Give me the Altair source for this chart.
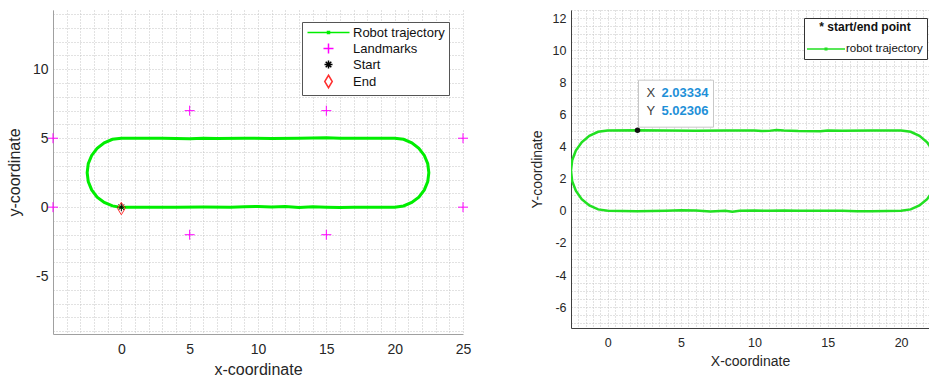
import altair as alt
import pandas as pd

# ---------------- left panel data ----------------
traj_x = [0, 2, 4, 6, 8, 9, 10, 11, 12, 13, 14, 15, 16, 17, 18, 20,
          20.65, 21.25, 21.77, 22.17, 22.42, 22.5, 22.42, 22.17, 21.77, 21.25, 20.65, 20,
          18, 16, 15, 13, 11, 9, 7, 6, 5, 3, 2, 0,
          -0.65, -1.25, -1.77, -2.17, -2.42, -2.5, -2.42, -2.17, -1.77, -1.25, -0.65, 0]
traj_y = [0, 0, 0, 0.01, 0, 0.03, 0.05, 0.02, 0.04, -0.03, 0.03, 0, -0.03, 0, 0, 0,
          0.09, 0.34, 0.73, 1.25, 1.85, 2.5, 3.15, 3.75, 4.27, 4.67, 4.92, 5,
          5, 5, 5.03, 5, 4.98, 5, 4.98, 5, 4.97, 5, 5, 5,
          4.92, 4.67, 4.27, 3.75, 3.15, 2.5, 1.85, 1.25, 0.73, 0.34, 0.09, -0.02]
land_x = [5, 15, 5, 15, -5, -5, 25, 25]
land_y = [7, 7, -2, -2, 5, 0, 5, 0]
start_x, start_y = [0], [0]
end_x, end_y = [0], [-0.1]
series_names = ["Robot trajectory", "Landmarks", "Start", "End"]
series_colors = ["#00ee00", "#ff00ff", "#000000", "#ff3030"]
series_shapes = [
    "M-4.2,0H4.2M-0.2,-0.2H0.2V0.2H-0.2Z",
    "M-1,0H1M0,-1V1",
    "M-0.8,0H0.8M0,-0.8V0.8M-0.56,-0.56L0.56,0.56M-0.56,0.56L0.56,-0.56",
    "M0,-1.25L0.75,0L0,1.25L-0.75,0Z",
]

# ---------------- right panel data ----------------
traj2_x = [0, 2, 4, 5, 6, 7, 8, 8.5, 9, 10, 11, 12, 13, 14, 15, 16, 17, 18, 20,
           20.65, 21.25, 21.77, 22.17, 22.42, 22.5, 22.42, 22.17, 21.77, 21.25, 20.65, 20,
           18, 16, 15, 14.5, 13, 12, 11.5, 11, 10.5, 10, 8, 6, 4, 2.03334, 0,
           -0.65, -1.25, -1.77, -2.17, -2.42, -2.5, -2.42, -2.17, -1.77, -1.25, -0.65, 0]
traj2_y = [0, -0.02, 0, 0.03, 0.02, -0.04, 0, -0.05, 0, 0.02, 0, 0.02, 0, 0.01, 0, 0, -0.03, -0.02, 0,
           0.09, 0.34, 0.73, 1.25, 1.85, 2.5, 3.15, 3.75, 4.27, 4.67, 4.92, 5,
           5, 4.99, 5.0, 4.96, 4.97, 5.0, 5.03, 4.98, 4.97, 5, 5.01, 4.99, 5.0, 5.02306, 5,
           4.92, 4.67, 4.27, 3.75, 3.15, 2.5, 1.85, 1.25, 0.73, 0.34, 0.09, 0]
tip_x = [2.03334]
tip_y = [5.02306]

FONT = "Liberation Sans"

# ---------------- build left ----------------
traj_df = pd.DataFrame({"x": traj_x, "y": traj_y, "i": range(len(traj_x)),
                        "series": series_names[0]})
pts_df = pd.concat([
    pd.DataFrame({"x": land_x, "y": land_y, "series": series_names[1]}),
    pd.DataFrame({"x": start_x, "y": start_y, "series": series_names[2]}),
    pd.DataFrame({"x": end_x, "y": end_y, "series": series_names[3]}),
])

xl_vals = list(range(-5, 26))
yl_vals = list(range(-9, 15))

x_left = alt.X("x:Q", scale=alt.Scale(domain=[-5, 25], nice=False, zero=False),
               axis=alt.Axis(values=xl_vals, title="x-coordinate",
                             labelExpr="(datum.value % 5 === 0 && datum.value >= 0) ? '' + datum.value : ''",
                             ticks=False, labelPadding=8, titlePadding=5, labelFlush=False,
                             labelFontSize=14, titleFontSize=16,
                             domainColor="#a0a0a0"))
y_left = alt.Y("y:Q", scale=alt.Scale(domain=[-9.2, 14.3], nice=False, zero=False),
               axis=alt.Axis(values=yl_vals, title="y-coordinate",
                             labelExpr="(datum.value % 5 === 0) ? '' + datum.value : ''",
                             ticks=False, labelPadding=5, titlePadding=10, labelFlush=False,
                             labelFontSize=14, titleFontSize=16,
                             domainColor="#a0a0a0"))
color_left = alt.Color("series:N",
                       scale=alt.Scale(domain=series_names, range=series_colors),
                       legend=alt.Legend(title=None, orient="none", legendX=249, legendY=12,
                                         strokeColor="#555555", fillColor="white",
                                         padding=4, symbolOffset=16, labelOffset=18,
                                         symbolSize=100, symbolStrokeWidth=1.5,
                                         labelFontSize=13, labelFont=FONT, labelColor="#111111",
                                         rowPadding=0, cornerRadius=0,
                                         symbolFillColor="transparent"))
shape_left = alt.Shape("series:N",
                       scale=alt.Scale(domain=series_names, range=series_shapes),
                       legend=None)

left_line = alt.Chart(traj_df).mark_line(strokeWidth=3, clip=True).encode(
    x=x_left, y=y_left, order="i:Q", color=color_left)
left_pts = alt.Chart(pts_df).mark_point(filled=False, size=100, strokeWidth=1, opacity=1).encode(
    x=x_left, y=y_left, color=color_left, shape=shape_left)
left = alt.layer(left_line, left_pts).properties(width=410, height=324)

# ---------------- build right ----------------
traj2_df = pd.DataFrame({"x": traj2_x, "y": traj2_y, "i": range(len(traj2_x)),
                         "series": "robot trajectory"})
tip_df = pd.DataFrame({"x": tip_x, "y": tip_y,
                       "lx": ["X"], "ly": ["Y"],
                       "vx": [f"{tip_x[0]:.5f}"], "vy": [f"{tip_y[0]:.5f}"]})

xr_vals = [v / 2 for v in range(-5, 44)]
yr_vals = [v / 2 for v in range(-14, 26)]
x_right = alt.X("x:Q", scale=alt.Scale(domain=[-2.5, 21.9], nice=False, zero=False),
                axis=alt.Axis(values=xr_vals, title="X-coordinate",
                              labelExpr="(datum.value % 5 === 0) ? '' + datum.value : ''",
                              ticks=False, labelPadding=8, titlePadding=6, labelFlush=False,
                              labelFontSize=12.5, titleFontSize=14,
                              domainColor="#404040"))
y_right = alt.Y("y:Q", scale=alt.Scale(domain=[-7.3, 12.51], nice=False, zero=False),
                axis=alt.Axis(values=yr_vals, title="Y-coordinate",
                              labelExpr="(datum.value % 2 === 0) ? '' + datum.value : ''",
                              ticks=False, labelPadding=5, titlePadding=8, labelFlush=False,
                              labelFontSize=12.5, titleFontSize=14,
                              domainColor="#404040"))
right_line = alt.Chart(traj2_df).mark_line(strokeWidth=2.5, clip=True).encode(
    x=x_right, y=y_right, order="i:Q",
    color=alt.Color("series:N", scale=alt.Scale(domain=["robot trajectory"], range=["#22e022"]),
                    legend=alt.Legend(title="* start/end point", orient="none",
                                      legendX=233, legendY=8,
                                      titleFontWeight="bold", titleFontSize=12,
                                      titleFont=FONT, titleColor="#111111",
                                      titleAnchor="middle", titleAlign="center",
                                      titlePadding=9,
                                      strokeColor="#333333", fillColor="white",
                                      padding=4, symbolOffset=12, labelOffset=14,
                                      symbolSize=100, symbolStrokeWidth=1.5,
                                      symbolType="M-3.8,0H3.8M-0.15,-0.15H0.15V0.15H-0.15Z",
                                      labelFontSize=11.5, labelFont=FONT, labelColor="#111111",
                                      cornerRadius=0)))
tip_box = alt.Chart(tip_df).mark_rect(fill="white", stroke="#c8c8c8", strokeWidth=1,
                                      xOffset=1, x2Offset=76, yOffset=-50, y2Offset=-3).encode(
    x=x_right, x2="x:Q", y=y_right, y2="y:Q")
tip_pt = alt.Chart(tip_df).mark_circle(size=30, color="#111111", opacity=1).encode(
    x=x_right, y=y_right)
tip_lx = alt.Chart(tip_df).mark_text(align="left", dx=9, dy=-37, fontSize=13, font=FONT,
                                     color="#404040").encode(x=x_right, y=y_right, text="lx:N")
tip_ly = alt.Chart(tip_df).mark_text(align="left", dx=9, dy=-19, fontSize=13, font=FONT,
                                     color="#404040").encode(x=x_right, y=y_right, text="ly:N")
tip_vx = alt.Chart(tip_df).mark_text(align="left", dx=24, dy=-37, fontSize=13, font=FONT,
                                     fontWeight="bold", color="#1e90d8").encode(
    x=x_right, y=y_right, text="vx:N")
tip_vy = alt.Chart(tip_df).mark_text(align="left", dx=24, dy=-19, fontSize=13, font=FONT,
                                     fontWeight="bold", color="#1e90d8").encode(
    x=x_right, y=y_right, text="vy:N")
right = alt.layer(right_line, tip_box, tip_pt, tip_lx, tip_ly, tip_vx, tip_vy).properties(
    width=358, height=318)

chart = alt.hconcat(left, right, spacing=59).resolve_scale(
    color="independent", shape="independent"
).resolve_legend(color="independent", shape="independent").properties(
    padding={"left": 6, "top": 10, "right": 0, "bottom": 0},
    background="white"
).configure_view(stroke=None).configure_axis(
    gridDash=[1, 2], gridColor="#c4c4c4", gridWidth=1,
    labelFont=FONT, titleFont=FONT, labelColor="#262626", titleColor="#262626",
    titleFontWeight="normal", domainWidth=1
)

chart.save("out.html", embed_options={"renderer": "svg", "actions": False})
